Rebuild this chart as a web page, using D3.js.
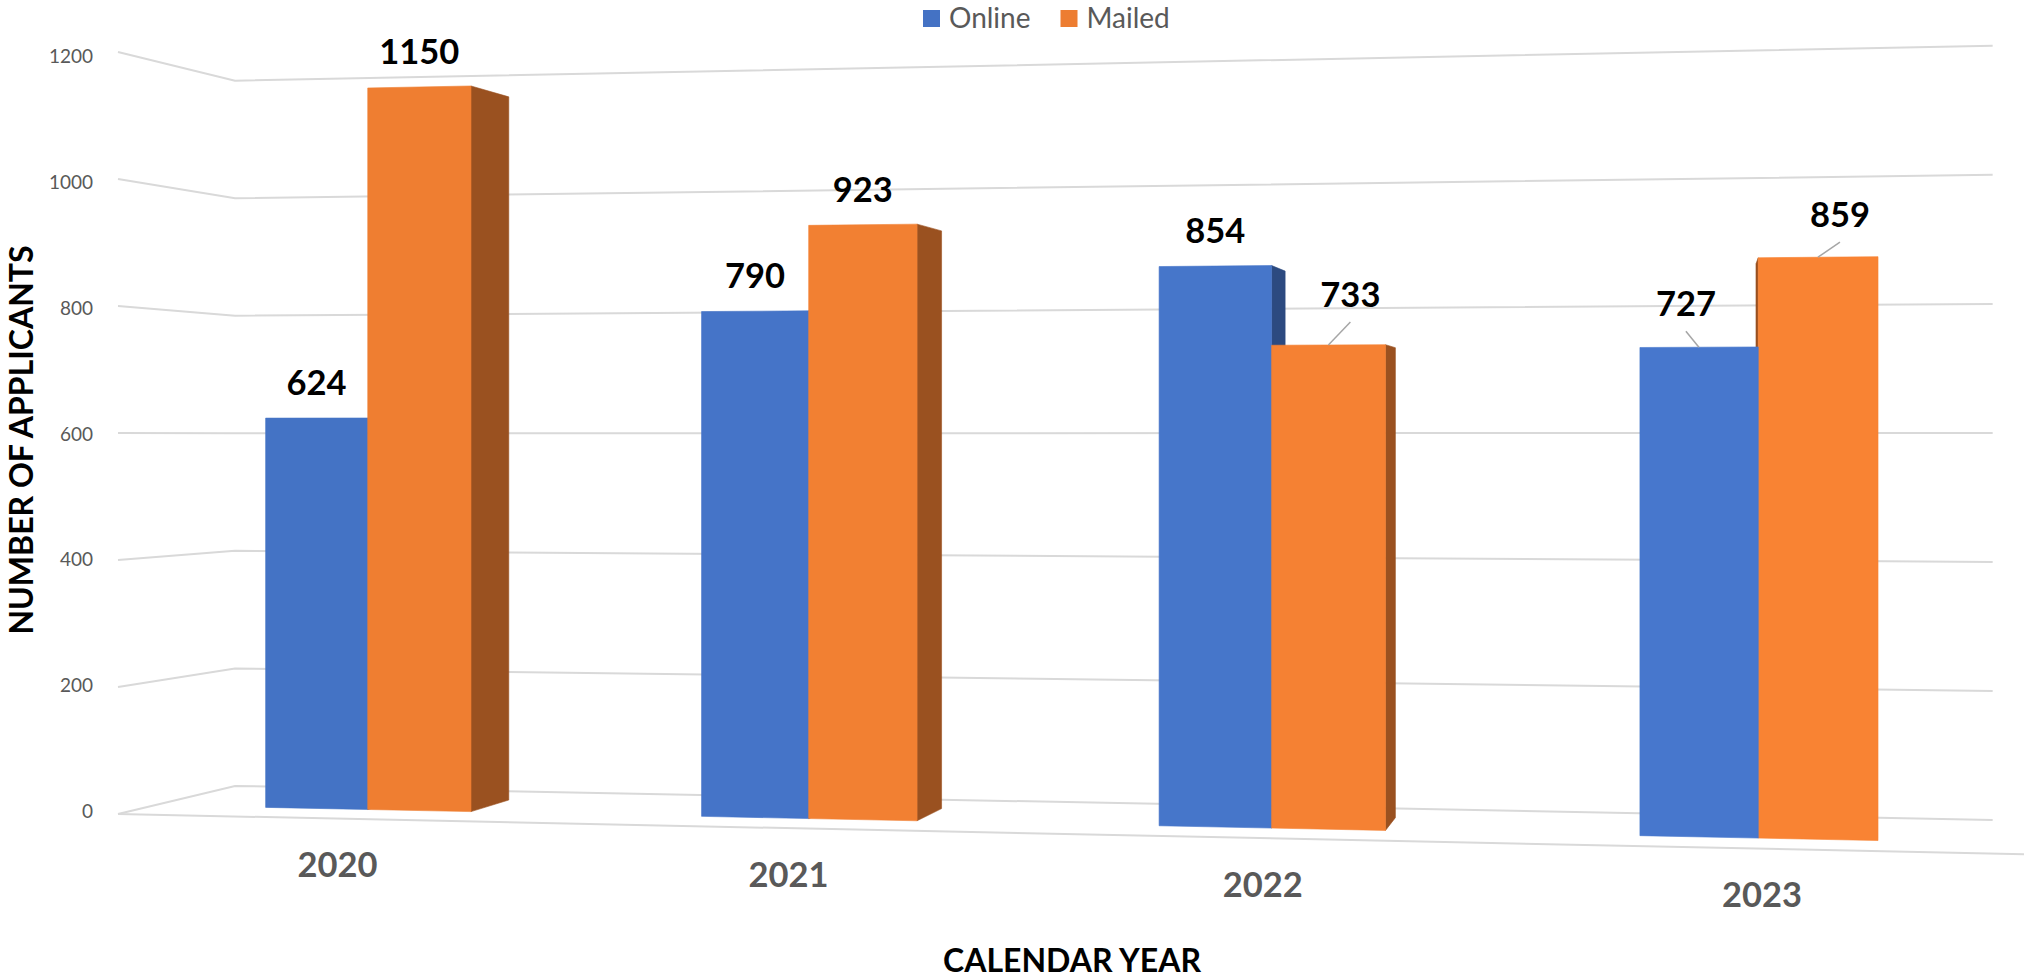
<!DOCTYPE html>
<html>
<head>
<meta charset="utf-8">
<script src="https://cdn.jsdelivr.net/npm/d3@7"></script>
<style>
  html, body { margin: 0; padding: 0; background: #ffffff; }
  svg { display: block; }
  text { font-family: Lato, "Open Sans", sans-serif; }
</style>
</head>
<body>
<svg id="chart" width="2024" height="980"></svg>
<script>
// ---- data ----
const years = ["2020", "2021", "2022", "2023"];
const seriesNames = ["Online", "Mailed"];
const online = [624, 790, 854, 727];
const mailed = [1150, 923, 733, 859];
const yTicks = [0, 200, 400, 600, 800, 1000, 1200];
const seriesColors = ["#4472C4", "#ED7D31"];

// data labels that were dragged off their bars: [series, year index, dx, dy]
const labelNudges = [
  ["Mailed", 2, 22, -15],
  ["Online", 3, -13, -8],
  ["Mailed", 3, 22, -7]
];

// ---- 3D scene: world box (X along categories, Y up, Z into depth) ----
const W = 1837, D = 292, H = 762;
const view = { f: 3567, cx: 1012, horizon: 437, cosA: 0.9824, sinA: -0.18677, ox: -894, oy: -377, oz: 3567 };

function project(X, Y, Z) {
  const xc = view.ox + X * view.cosA - Z * view.sinA;
  const yc = view.oy + Y;
  const zc = view.oz + X * view.sinA + Z * view.cosA;
  return [view.cx + view.f * xc / zc, view.horizon - view.f * yc / zc];
}
const camX = -(view.ox * view.cosA + view.oz * view.sinA);

const x0 = d3.scaleBand().domain(years).range([0, W]);
const x1 = d3.scaleBand().domain(seriesNames).range([0, x0.bandwidth()]).paddingOuter(1.096);
const y = d3.scaleLinear().domain([0, 1200]).range([0, H]);
const zFront = D * 0.3, zBack = D * 0.7;
const color = d3.scaleOrdinal().domain(seriesNames).range(seriesColors);
const values = { Online: online, Mailed: mailed };

const svg = d3.select("#chart");
const poly = pts => "M" + pts.map(p => project(...p).map(v => v.toFixed(2)).join(",")).join("L") + "Z";

// ---- walls: side wall + back wall gridlines, floor front edge ----
const grid = svg.append("g").attr("fill", "none").attr("stroke", "#d9d9d9").attr("stroke-width", 2);
yTicks.forEach(t => {
  const pts = [project(0, y(t), 0), project(0, y(t), D), project(W, y(t), D)];
  grid.append("polyline").attr("points", pts.map(p => p.join(",")).join(" "));
});
{
  const a = project(0, 0, 0), b = project(W * 1.003, 0, 0);
  grid.append("line").attr("x1", a[0]).attr("y1", a[1]).attr("x2", b[0]).attr("y2", b[1]);
}

// ---- tick labels on the value axis ----
svg.append("g")
  .attr("fill", "#595959").attr("font-size", 19).attr("text-anchor", "end")
  .selectAll("text").data(yTicks).join("text")
  .attr("x", t => project(0, y(t), 0)[0] - 25)
  .attr("y", t => view.horizon + (project(0, y(t), 0)[1] - view.horizon) * 0.99)
  .attr("dominant-baseline", "central")
  .text(t => t);

// ---- bars (painted from the outside in, toward the viewpoint) ----
const bars = [];
years.forEach((yr, i) => seriesNames.forEach(s => {
  const xa = x0(yr) + x1(s), xb = xa + x1.bandwidth();
  bars.push({ yr, i, s, v: values[s][i], xa, xb, h: y(values[s][i]) });
}));
bars.sort((p, q) => Math.abs((q.xa + q.xb) / 2 - camX) - Math.abs((p.xa + p.xb) / 2 - camX));

const barG = svg.append("g");
bars.forEach(b => {
  const base = d3.color(color(b.s));
  const front = base.brighter(0.15 * ((b.xa + b.xb) / 2) / W).formatHex();
  const side = base.darker(1.2).formatHex();
  const topC = base.brighter(0.4).formatHex();
  const g = barG.append("g");
  const face = (pts, c) => g.append("path").attr("d", poly(pts)).attr("fill", c).attr("stroke", c).attr("stroke-width", 0.6);
  if (project(b.xb, 0, zBack)[0] > project(b.xb, 0, zFront)[0])
    face([[b.xb, 0, zFront], [b.xb, 0, zBack], [b.xb, b.h, zBack], [b.xb, b.h, zFront]], side);
  if (project(b.xa, 0, zBack)[0] < project(b.xa, 0, zFront)[0])
    face([[b.xa, 0, zFront], [b.xa, 0, zBack], [b.xa, b.h, zBack], [b.xa, b.h, zFront]], side);
  if (project(b.xa, b.h, zBack)[1] < project(b.xa, b.h, zFront)[1])
    face([[b.xa, b.h, zFront], [b.xb, b.h, zFront], [b.xb, b.h, zBack], [b.xa, b.h, zBack]], topC);
  face([[b.xa, 0, zFront], [b.xb, 0, zFront], [b.xb, b.h, zFront], [b.xa, b.h, zFront]], front);
});

// ---- value labels ----
const labG = svg.append("g");
bars.forEach(b => {
  const [u, v] = project((b.xa + b.xb) / 2, b.h, zFront);
  const n = labelNudges.find(d => d[0] === b.s && d[1] === b.i);
  const lx = u + (n ? n[2] : 0), ly = v - 23 + (n ? n[3] : 0);
  if (n) {
    labG.append("line").attr("x1", lx).attr("y1", ly + 15).attr("x2", u).attr("y2", v)
      .attr("stroke", "#a6a6a6").attr("stroke-width", 1.5);
  }
  labG.append("text").attr("x", lx).attr("y", ly)
    .attr("text-anchor", "middle").attr("font-size", 34.5).attr("font-weight", 700).attr("fill", "#000")
    .text(b.v);
});

// ---- category labels under the floor ----
svg.append("g")
  .attr("fill", "#595959").attr("font-size", 34.5).attr("font-weight", 700).attr("text-anchor", "middle")
  .selectAll("text").data(years).join("text")
  .attr("x", d => project(x0(d) + x0.bandwidth() / 2, 0, 0)[0] + 2)
  .attr("y", d => project(x0(d) + x0.bandwidth() / 2, 0, 0)[1] + 58.5)
  .text(d => d);

// ---- axis titles ----
svg.append("text")
  .attr("transform", "translate(33,440) rotate(-90)")
  .attr("text-anchor", "middle").attr("font-size", 32).attr("font-weight", 700).attr("fill", "#000")
  .text("NUMBER OF APPLICANTS");
svg.append("text")
  .attr("x", 1072).attr("y", 972)
  .attr("text-anchor", "middle").attr("font-size", 32).attr("font-weight", 700).attr("fill", "#000")
  .text("CALENDAR YEAR");

// ---- legend ----
const leg = svg.append("g").attr("font-size", 28).attr("fill", "#595959");
let lx = 923;
seriesNames.forEach(s => {
  leg.append("rect").attr("x", lx).attr("y", 10).attr("width", 17).attr("height", 17).attr("fill", color(s));
  const t = leg.append("text").attr("x", lx + 26).attr("y", 28).text(s);
  lx += 26 + t.node().getComputedTextLength() + 30;
});
</script>
</body>
</html>
